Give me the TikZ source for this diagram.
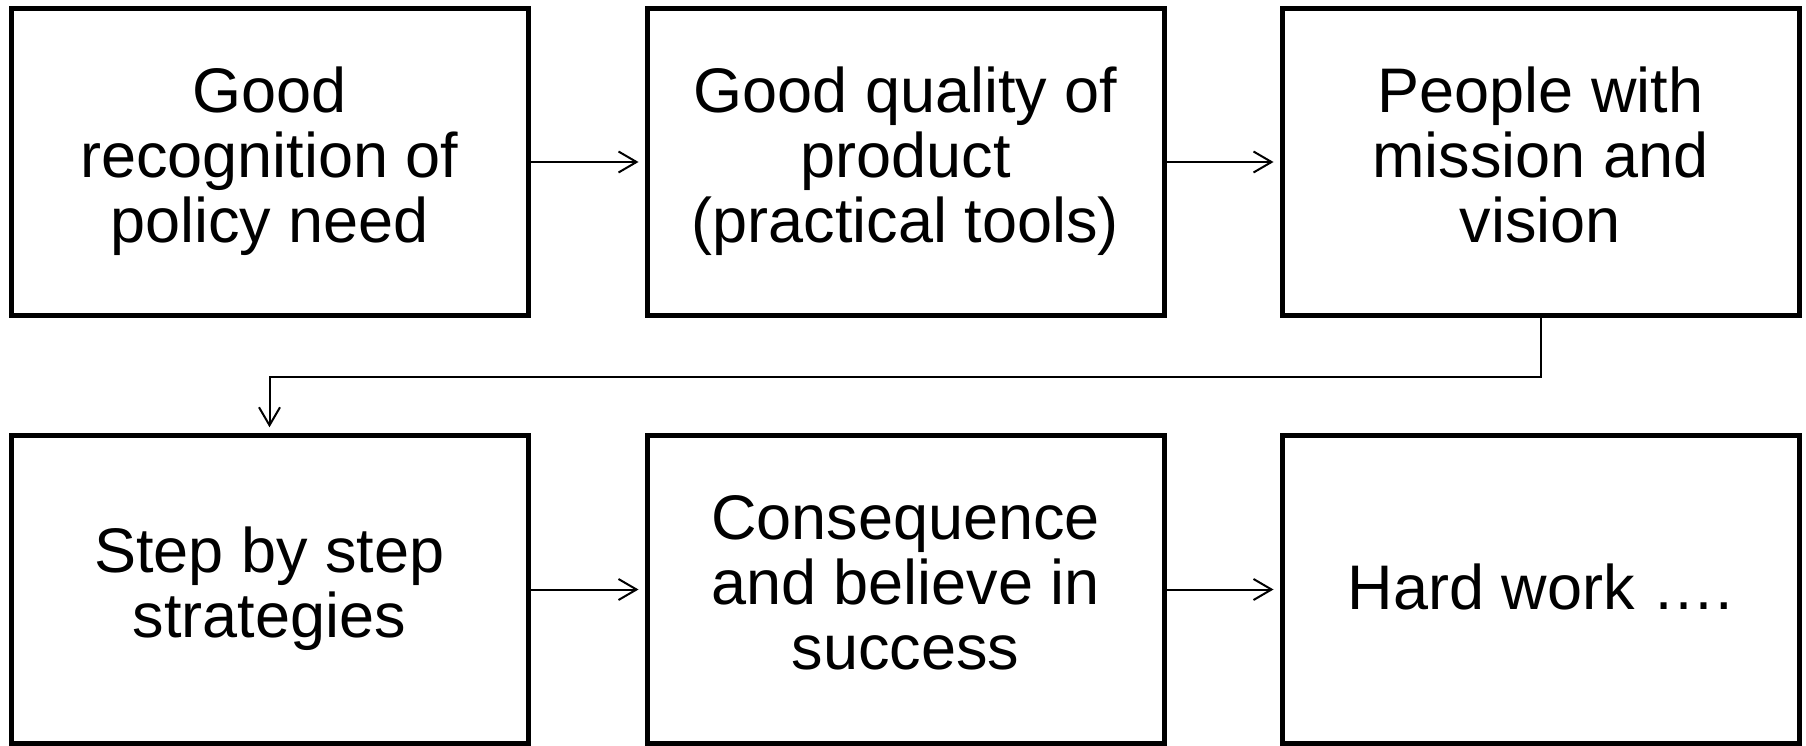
\documentclass[tikz,border=0pt]{standalone}
\usepackage{fontspec}
\setmainfont{Liberation Sans}
\usetikzlibrary{arrows.meta}
\newcommand{\bxstrut}{\rule[-14pt]{0pt}{68pt}}
\begin{document}
\begin{tikzpicture}[x=1pt,y=-1pt,
  box/.style={draw=black, line width=5pt, minimum width=517pt, minimum height=307.5pt,
    inner sep=0pt, align=center, font=\fontsize{63}{65}\selectfont,
    execute at begin node=\bxstrut, execute at end node=\bxstrut},
  conn/.style={draw=black, line width=2pt, -{Straight Barb[length=18pt,width=21pt,line width=2pt]}, shorten >=6pt}]
\useasboundingbox (0,0) rectangle (1806,746);
\fill[white] (0,0) rectangle (1806,746);
\node[box] (b1) at (269.5,162) {Good\\recognition of\\policy need};
\node[box] (b2) at (905.5,162) {Good quality of\\product\\(practical tools)};
\node[box] (b3) at (1540.5,162) {People with\\mission and\\vision};
\node[box] (b4) at (269.5,589.5) {Step by step\\strategies};
\node[box] (b5) at (905.5,589.5) {Consequence\\and believe in\\success};
\node[box] (b6) at (1540.5,589.5) {Hard work \ldots.};
\coordinate (mid) at (1540.5,377);
\draw[conn] (b1.east) -- (b2.west);
\draw[conn] (b2.east) -- (b3.west);
\draw[conn] (b4.east) -- (b5.west);
\draw[conn] (b5.east) -- (b6.west);
\draw[conn] (b3.south) -- (mid) -| (b4.north);
\end{tikzpicture}
\end{document}
